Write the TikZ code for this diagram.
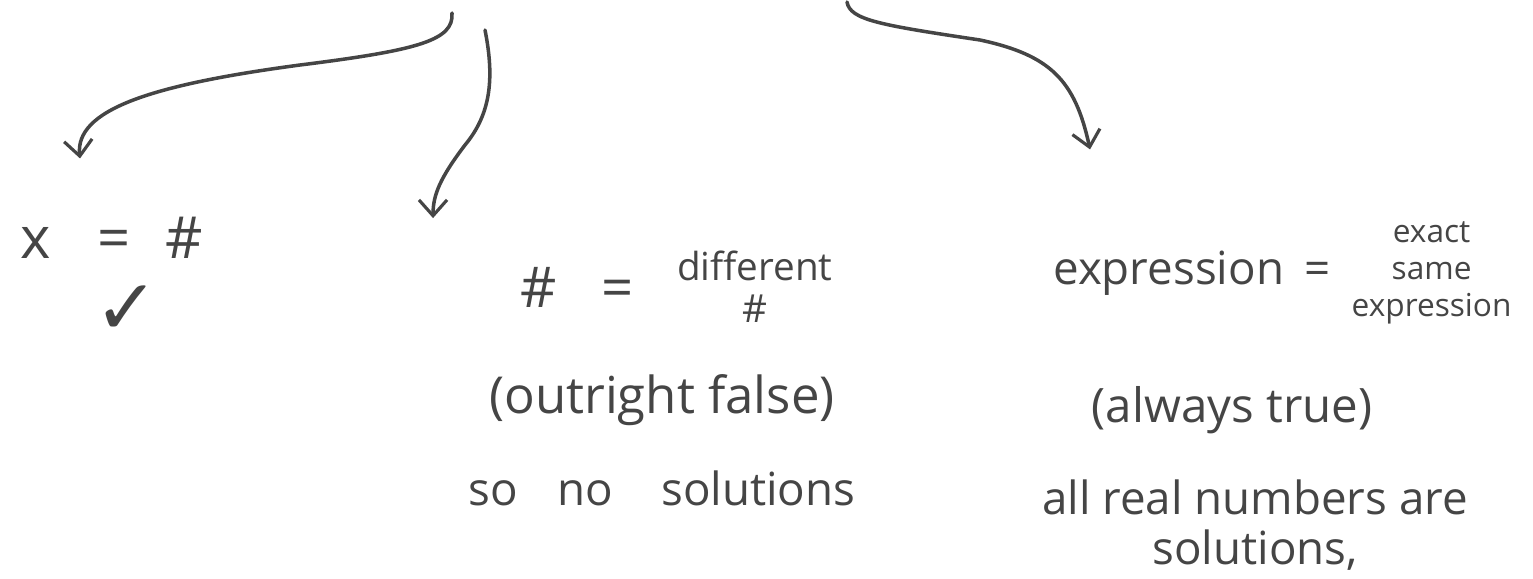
\documentclass[tikz,border=0pt]{standalone}
\usepackage{fontspec}
\setmainfont{Open Sans}
\newfontfamily\symfont{DejaVu Sans}
\usetikzlibrary{arrows.meta, positioning}
\definecolor{ink}{HTML}{454545}
\tikzset{
    hand/.style = {text=ink, inner sep=2pt, font=\fontsize{26}{30}\selectfont},
    small/.style = {text=ink, inner sep=1pt, align=center, font=\fontsize{20}{22}\selectfont},
    arrow/.style = {draw=ink, line width=2pt, line cap=round, -{Straight Barb[length=9pt, width=16pt, line width=1.8pt]}}
}

\begin{document}
\begin{tikzpicture}[x=0.02cm, y=-0.02cm]
        \useasboundingbox (0,0) rectangle (1533,578);

        % Starting points at top
        \coordinate (s1) at (452,13);
        \coordinate (s2) at (485,30);
        \coordinate (s3) at (847,2);

        % Left case
        \node [hand, font=\fontsize{33}{36}\selectfont] (xeq) at (112,238) {x\hspace{0.8em}=\hspace{0.6em}\#};
        \node [hand, font=\symfont\fontsize{44}{44}\selectfont] (tick) at (127,310) {✓};

        % Middle case
        \node [hand, font=\fontsize{32}{36}\selectfont] (neq) at (577,287) {\#\hspace{0.8em}=};
        \node [small, right=0.75cm of neq, font=\fontsize{22}{24}\selectfont] (diff) {different\\\#};
        \node [hand, font=\fontsize{29}{34}\selectfont] (false) at (662,400) {(outright false)};
        \node [hand, below=0.75cm of false] (nosol) {so\hspace{0.6em} no\hspace{0.8em} solutions};

        % Right case
        \node [hand] (expr) at (1192,273) {expression\hspace{0.45em}=};
        \node [small, right=0.3cm of expr, font=\fontsize{18}{21}\selectfont] (same) {exact\\same\\expression};
        \node [hand, font=\fontsize{27}{32}\selectfont] (true) at (1232,410) {(always true)};
        \node [hand] (allreal) at (1255,497) {all real numbers are};
        \node [hand, below=0.15cm of allreal] (sols) {solutions,};

        % Arrows
        \draw [arrow] (s1) .. controls (454,40) and (420,50) .. (300,65)
                           .. controls (150,85) and (75,110) .. ([xshift=-0.64cm, yshift=1.1cm]xeq.north);
        \draw [arrow] (s2) .. controls (495,80) and (490,115) .. (465,145)
                           .. controls (440,178) and (433,195) .. ([xshift=-2.88cm, yshift=0.9cm]neq.north);
        \draw [arrow] (s3) .. controls (850,20) and (880,25) .. (980,40)
                           .. controls (1050,55) and (1075,80) .. ([xshift=-2.04cm, yshift=1.95cm]expr.north);

    \end{tikzpicture}
\end{document}
